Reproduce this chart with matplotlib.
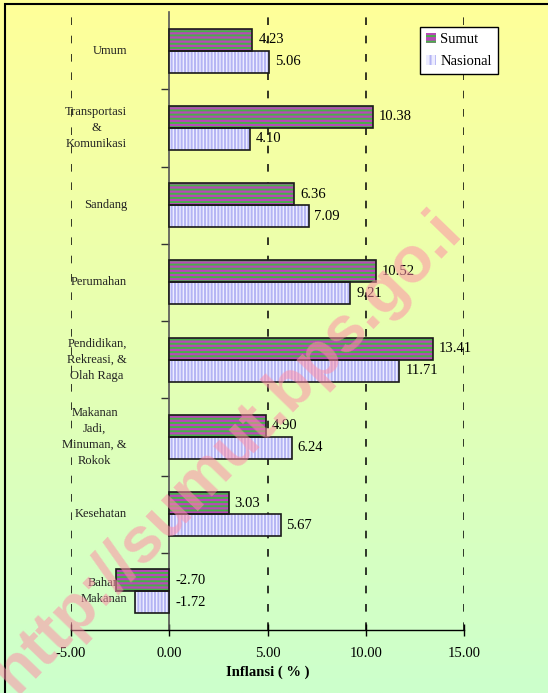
import numpy as np
import matplotlib
matplotlib.use("Agg")
import matplotlib.pyplot as plt
from matplotlib.patches import Patch, Rectangle

categories = ["Umum", "Transportasi\n&\nKomunikasi", "Sandang", "Perumahan",
              "Pendidikan,\nRekreasi, &\nOlah Raga", "Makanan\nJadi,\nMinuman, &\nRokok",
              "Kesehatan", "Bahan\nMakanan"]
sumut = [4.23, 10.38, 6.36, 10.52, 13.41, 4.90, 3.03, -2.70]
nasional = [5.06, 4.10, 7.09, 9.21, 11.71, 6.24, 5.67, -1.72]
xticks = [-5, 0, 5, 10, 15]

W, H = 548, 693
fig = plt.figure(figsize=(W / 100, H / 100), dpi=100)
plt.rcParams['font.family'] = ['Liberation Serif', 'DejaVu Serif']
plt.rcParams['hatch.linewidth'] = 1.4

# background gradient
bg = fig.add_axes([0, 0, 1, 1], zorder=-10)
top = np.array([1.0, 1.0, 0.60])
bot = np.array([0.80, 1.0, 0.80])
t = np.linspace(0, 1, 256)[:, None]
grad = top[None, None, :] * (1 - t[..., None]) + bot[None, None, :] * t[..., None]
grad = np.repeat(grad, 2, axis=1)
bg.imshow(grad, aspect='auto', extent=[0, 1, 0, 1])
bg.axis('off')
bg.add_patch(Rectangle((5 / W, -0.1), 1.2, 1.1 - 4 / H, transform=bg.transAxes,
                       fill=False, edgecolor='black', linewidth=1.5))

left, right = 71 / W, 464 / W
ax = fig.add_axes([left, (H - 630) / H, right - left, 618 / H])
ax.set_facecolor('none')

n = len(categories)
y = np.arange(n)
h = 0.285
off = h / 2

# Sumut bars: magenta face with green horizontal stripes
ax.barh(y - off, sumut, height=h, color='#b848b8', edgecolor='#48b048',
        hatch='----', linewidth=0, zorder=3)
ax.barh(y - off, sumut, height=h, fill=False, edgecolor='#1a1a1a', linewidth=1.2, zorder=4)
# Nasional bars: lavender with vertical stripes
ax.barh(y + off, nasional, height=h, color='#ececff', edgecolor='#b4b4f4',
        hatch='|||||', linewidth=0, zorder=3)
ax.barh(y + off, nasional, height=h, fill=False, edgecolor='#1a1a1a', linewidth=1.2, zorder=4)

for yi, v in zip(y - off, sumut):
    ax.text(max(v, 0) + 0.3, yi, f"{v:.2f}", va='center', ha='left', fontsize=10.5, zorder=5)
for yi, v in zip(y + off, nasional):
    ax.text(max(v, 0) + 0.3, yi, f"{v:.2f}", va='center', ha='left', fontsize=10.5, zorder=5)

for yi, c in zip(y, categories):
    ax.text((127 - 71) / 393, yi, c, transform=ax.get_yaxis_transform(), ha='right',
            va='center', multialignment='center', fontsize=9, linespacing=1.45,
            color='#222222', zorder=2)

ax.set_xlim(-5, 15)
ax.set_ylim(n - 0.5, -0.5)

for xv in [-5, 5, 10, 15]:
    ax.axvline(xv, color='black', linestyle=(0, (5, 7)), linewidth=1.1, zorder=1)

ax.spines['top'].set_visible(False)
ax.spines['right'].set_visible(False)
ax.spines['left'].set_position(('data', 0))
ax.spines['left'].set_color('#555555')
ax.spines['left'].set_linewidth(1.2)
ax.spines['bottom'].set_linewidth(1.0)

ax.set_yticks(np.arange(n - 1) + 0.5)
ax.set_yticklabels([])
ax.tick_params(axis='y', direction='out', length=6, width=1.0, color='#333333')
ax.set_xticks(xticks)
ax.set_xticklabels([f"{v:.2f}" for v in xticks], fontsize=10.5)
ax.tick_params(axis='x', direction='inout', length=8, width=1.0, pad=8)
ax.set_xlabel("Inflansi ( % )", fontsize=10.5, fontweight='bold', labelpad=4)

handles = [Patch(facecolor='#b848b8', edgecolor='#48b048', hatch='---', linewidth=0),
           Patch(facecolor='#ececff', edgecolor='#b4b4f4', hatch='|||', linewidth=0)]
leg = fig.legend(handles, ['Sumut', 'Nasional'], loc='upper left',
                 bbox_to_anchor=(420 / W, 1 - 27 / H), fontsize=10.5, frameon=True,
                 fancybox=False, edgecolor='black', framealpha=1, handlelength=0.7,
                 handleheight=0.7, handletextpad=0.3, borderpad=0.4, labelspacing=0.6,
                 borderaxespad=0)
leg.get_frame().set_linewidth(1.0)

fig.text(228 / W, 1 - 452 / H, "http://sumut.bps.go.i", rotation=46, ha='center', va='center',
         fontsize=47, fontweight='bold', color='#ff8fa8', alpha=0.55,
         family=['Liberation Sans', 'DejaVu Sans'], zorder=20)

fig.savefig("out.png", dpi=100)
